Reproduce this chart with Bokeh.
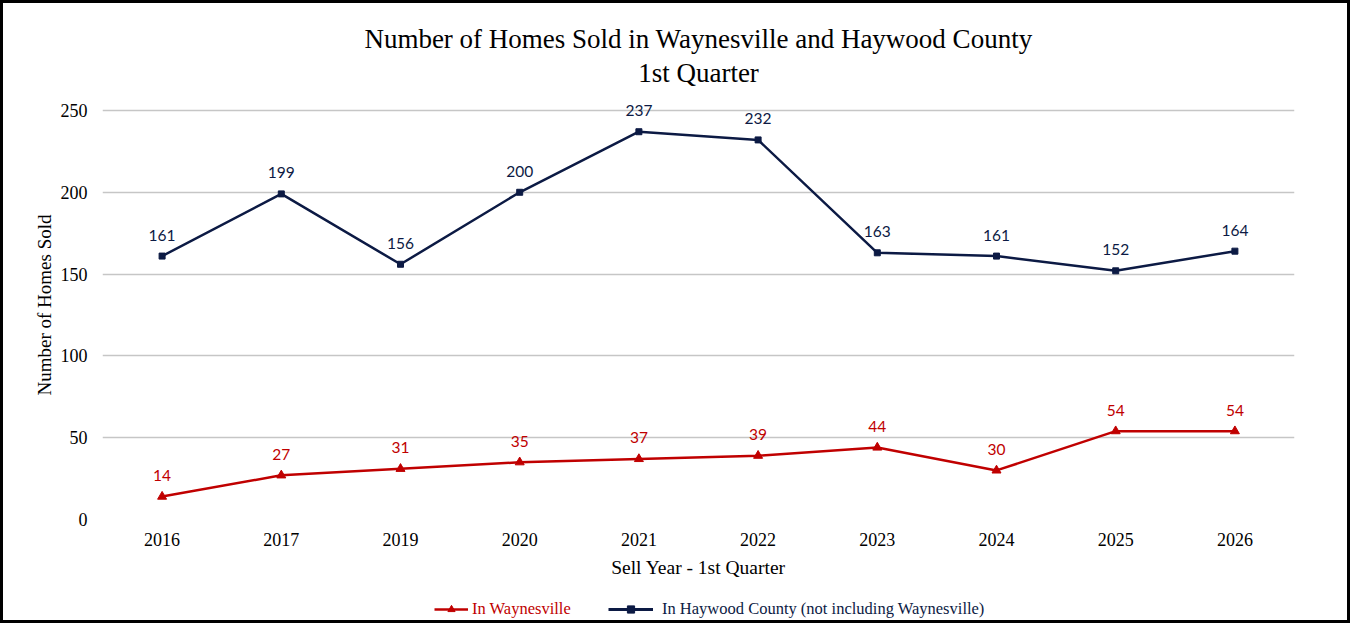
from bokeh.plotting import figure
from bokeh.layouts import column
from bokeh.models import ColumnDataSource, Legend, LegendItem, FixedTicker, Title, Range1d
from bokeh.core.properties import value
from bokeh.embed import file_html
from bokeh.resources import INLINE

years = ["2016", "2017", "2019", "2020", "2021", "2022", "2023", "2024", "2025", "2026"]
waynesville = [14, 27, 31, 35, 37, 39, 44, 30, 54, 54]
haywood = [161, 199, 156, 200, 237, 232, 163, 161, 152, 164]
y_ticks = [0, 50, 100, 150, 200, 250]
series_names = ["In Waynesville", "In Haywood County (not including Waynesville)"]

RED = "#C00000"
NAVY = "#0C1A44"
SERIF = "Liberation Serif"

src = ColumnDataSource(dict(
    x=years, w=waynesville, h=haywood,
    wl=[str(v) for v in waynesville], hl=[str(v) for v in haywood],
))

p = figure(width=1344, height=597, x_range=years, y_range=(0, 262.2),
           output_backend="svg", toolbar_location=None,
           min_border_left=99, min_border_right=53, min_border_top=87, min_border_bottom=81)
p.title = None

p.add_layout(Title(text="1st Quarter", align="center", text_font=SERIF,
                   text_font_size="27px", text_font_style="normal", text_color="black",
                   standoff=5), "above")
p.add_layout(Title(text="Number of Homes Sold in Waynesville and Haywood County", align="center",
                   text_font=SERIF, text_font_size="27px", text_font_style="normal",
                   text_color="black", standoff=0), "above")

p.outline_line_color = None
p.xgrid.grid_line_color = None
p.ygrid.grid_line_color = "#C6C6C6"
p.ygrid.grid_line_width = 1.5
p.yaxis.ticker = FixedTicker(ticks=y_ticks)

for ax in (p.xaxis, p.yaxis):
    ax.axis_line_color = None
    ax.major_tick_line_color = None
    ax.minor_tick_line_color = None
    ax.major_label_text_font = SERIF
    ax.major_label_text_font_size = "18px"
    ax.major_label_text_color = "black"
    ax.axis_label_text_font = SERIF
    ax.axis_label_text_font_size = "19px"
    ax.axis_label_text_font_style = "normal"
    ax.axis_label_text_color = "black"

p.xaxis.axis_label = "Sell Year - 1st Quarter"
p.xaxis.axis_label_text_font_size = "19.5px"
p.yaxis.axis_label = "Number of Homes Sold"
p.xaxis.major_label_standoff = 7
p.xaxis.axis_label_standoff = 8
p.yaxis.major_label_standoff = 9
p.yaxis.axis_label_standoff = 3

p.line("x", "w", source=src, line_color=RED, line_width=2.5)
p.scatter("x", "w", source=src, marker="triangle", size=9, fill_color=RED, line_color=RED)
p.line("x", "h", source=src, line_color=NAVY, line_width=2.5)
p.scatter("x", "h", source=src, marker="square", size=6, fill_color=NAVY, line_color=NAVY)

p.text("x", "w", text="wl", source=src, text_color=RED, text_font=value("Lato"),
       text_font_size="15.5px", text_align="center", text_baseline="middle", y_offset=-21)
p.text("x", "h", text="hl", source=src, text_color=NAVY, text_font=value("Lato"),
       text_font_size="15.5px", text_align="center", text_baseline="middle", y_offset=-21)

# legend strip (a separate, axis-less plot holding the two coloured legends)
lf = figure(width=1344, height=20, output_backend="svg", toolbar_location=None,
            x_range=Range1d(0, 1), y_range=Range1d(0, 1),
            min_border=0, min_border_left=0, min_border_right=0, min_border_top=0, min_border_bottom=0)
lf.axis.visible = False
lf.grid.visible = False
lf.outline_line_color = None
proxy = ColumnDataSource(dict(x=[-10, -11], y=[-10, -11]))  # off-screen legend proxies
el1 = lf.line("x", "y", source=proxy, line_color=RED, line_width=2.5)
es1 = lf.scatter("x", "y", source=proxy, marker="triangle", size=8, fill_color=RED, line_color=RED)
el2 = lf.line("x", "y", source=proxy, line_color=NAVY, line_width=3)
es2 = lf.scatter("x", "y", source=proxy, marker="square", size=6, fill_color=NAVY, line_color=NAVY)

leg1 = Legend(items=[LegendItem(label=series_names[0], renderers=[el1, es1], index=0)],
              location=(332, 1), label_text_color=RED, label_text_font=SERIF,
              label_text_font_size="16.5px", background_fill_alpha=0, border_line_color=None,
              glyph_width=34, glyph_height=18, label_standoff=4, padding=0, margin=0)
leg2 = Legend(items=[LegendItem(label=series_names[1], renderers=[el2, es2], index=0)],
              location=(506, 1), label_text_color=NAVY, label_text_font=SERIF,
              label_text_font_size="16.5px", background_fill_alpha=0, border_line_color=None,
              glyph_width=45, glyph_height=18, label_standoff=9, padding=0, margin=0)
lf.add_layout(leg1, "center")
lf.add_layout(leg2, "center")

layout = column(p, lf, spacing=0, styles={"border": "3px solid black", "box-sizing": "content-box"})

open("out.html", "w").write(file_html(layout, INLINE))
